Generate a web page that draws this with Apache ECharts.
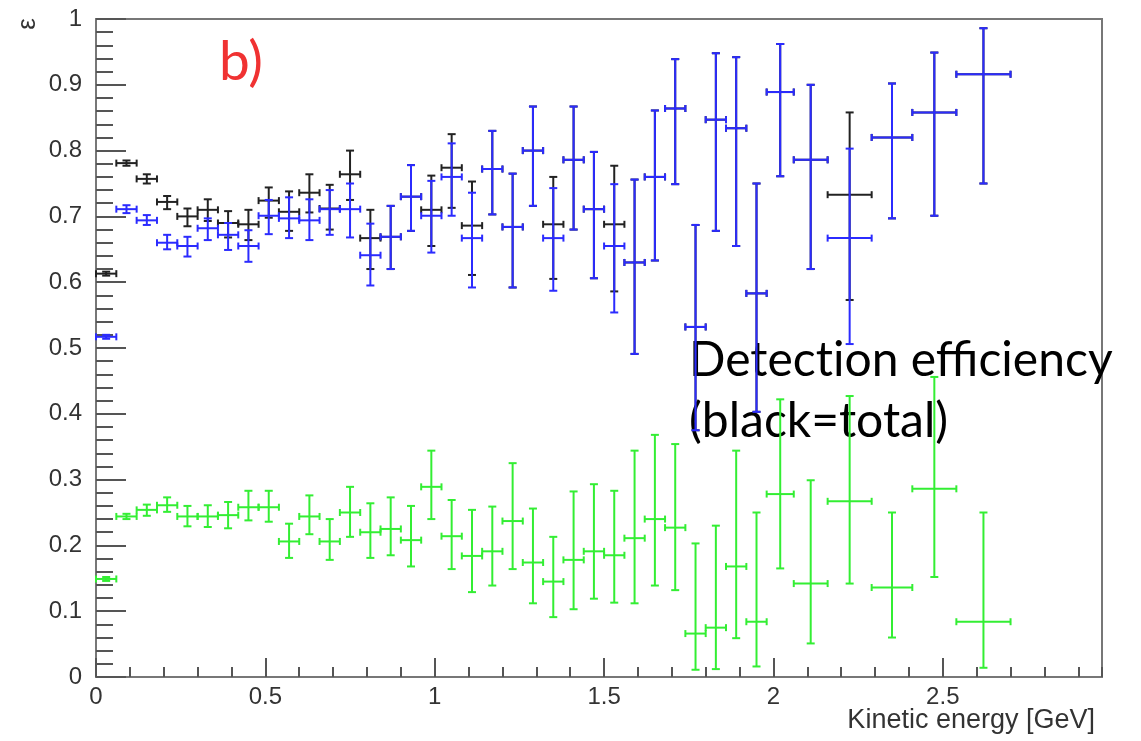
<!DOCTYPE html>
<html><head><meta charset="utf-8">
<script src="https://cdn.jsdelivr.net/npm/echarts@6/dist/echarts.min.js"></script>
<style>html,body{margin:0;padding:0;background:#fff}#c{width:1141px;height:741px}</style>
</head><body><div id="c"></div>
<script>
// Kinetic energy bin edges [GeV]
const binEdges = [0,0.06,0.12,0.18,0.24,0.30,0.36,0.42,0.48,0.54,0.60,0.66,0.72,0.78,0.84,0.90,0.96,1.02,1.08,1.14,1.20,1.26,1.32,1.38,1.44,1.50,1.56,1.62,1.68,1.74,1.80,1.86,1.92,1.98,2.06,2.16,2.29,2.41,2.54,2.70];

// Black = total efficiency
const blackVal = [0.613,0.781,0.757,0.722,0.700,0.710,0.690,0.688,0.724,0.707,0.736,0.712,0.764,0.667,0.669,0.730,0.710,0.774,0.686,0.772,0.684,0.800,0.688,0.786,0.711,0.688,0.630,0.760,0.864,0.532,0.847,0.834,0.583,0.889,0.786,0.733,0.820,0.858,0.916];
const blackLo  = [0.610,0.777,0.750,0.711,0.685,0.693,0.668,0.664,0.698,0.678,0.706,0.680,0.725,0.620,0.620,0.678,0.655,0.713,0.611,0.703,0.592,0.716,0.605,0.680,0.606,0.586,0.491,0.633,0.749,0.375,0.678,0.655,0.403,0.761,0.620,0.573,0.697,0.701,0.750];
const blackHi  = [0.616,0.785,0.764,0.731,0.712,0.726,0.708,0.710,0.744,0.738,0.764,0.748,0.800,0.710,0.716,0.778,0.762,0.825,0.753,0.830,0.765,0.867,0.760,0.867,0.798,0.777,0.756,0.861,0.939,0.687,0.948,0.942,0.750,0.962,0.900,0.858,0.902,0.949,0.986];

// Blue
const blueVal = [0.517,0.711,0.694,0.660,0.655,0.682,0.672,0.655,0.701,0.697,0.694,0.711,0.711,0.641,0.669,0.730,0.701,0.760,0.667,0.772,0.684,0.800,0.667,0.786,0.711,0.655,0.630,0.760,0.864,0.532,0.847,0.834,0.583,0.889,0.786,0.667,0.820,0.858,0.916];
const blueLo  = [0.514,0.705,0.687,0.650,0.639,0.664,0.649,0.631,0.673,0.667,0.664,0.672,0.668,0.595,0.620,0.678,0.645,0.701,0.592,0.703,0.592,0.716,0.587,0.680,0.606,0.554,0.491,0.633,0.749,0.375,0.678,0.655,0.403,0.761,0.620,0.506,0.697,0.701,0.750];
const blueHi  = [0.520,0.717,0.702,0.672,0.669,0.697,0.690,0.679,0.725,0.729,0.726,0.740,0.750,0.689,0.716,0.778,0.754,0.811,0.736,0.830,0.765,0.867,0.743,0.867,0.798,0.749,0.756,0.861,0.939,0.687,0.948,0.942,0.750,0.962,0.900,0.803,0.902,0.949,0.986];

// Green
const greenVal = [0.149,0.244,0.254,0.261,0.244,0.244,0.246,0.258,0.258,0.206,0.244,0.206,0.250,0.220,0.225,0.208,0.289,0.214,0.184,0.191,0.237,0.174,0.145,0.178,0.191,0.185,0.211,0.240,0.227,0.066,0.075,0.168,0.084,0.278,0.142,0.267,0.136,0.286,0.084];
const greenLo  = [0.146,0.240,0.245,0.251,0.229,0.228,0.226,0.238,0.236,0.181,0.217,0.178,0.213,0.181,0.185,0.168,0.240,0.164,0.129,0.139,0.164,0.112,0.091,0.103,0.119,0.113,0.112,0.139,0.132,0.011,0.012,0.059,0.016,0.165,0.051,0.142,0.060,0.152,0.014];
const greenHi  = [0.152,0.248,0.262,0.273,0.260,0.261,0.266,0.283,0.283,0.233,0.276,0.240,0.289,0.264,0.273,0.260,0.344,0.269,0.254,0.259,0.325,0.256,0.213,0.282,0.293,0.283,0.344,0.368,0.354,0.203,0.230,0.344,0.250,0.422,0.299,0.427,0.250,0.456,0.250];

function build(val, lo, hi) {
  return val.map((v, i) => [(binEdges[i] + binEdges[i + 1]) / 2, v, binEdges[i], binEdges[i + 1], lo[i], hi[i]]);
}

function errItem(color) {
  return function (params, api) {
    const x = api.value(0), y = api.value(1), x0 = api.value(2), x1 = api.value(3), y0 = api.value(4), y1 = api.value(5);
    const a = api.coord([x0, y]), b = api.coord([x1, y]), lo = api.coord([x, y0]), hi = api.coord([x, y1]);
    const cx = lo[0], cy = a[1];
    const cv = 4, ch = 3.5;
    const st = { stroke: color, lineWidth: 2 };
    const L = (p, q, r, s) => ({ type: 'line', shape: { x1: p, y1: q, x2: r, y2: s }, style: st });
    return {
      type: 'group',
      children: [
        L(a[0], cy, b[0], cy),
        L(cx, lo[1], cx, hi[1]),
        L(cx - cv, lo[1], cx + cv, lo[1]),
        L(cx - cv, hi[1], cx + cv, hi[1]),
        L(a[0], cy - ch, a[0], cy + ch),
        L(b[0], cy - ch, b[0], cy + ch)
      ]
    };
  };
}

const fmt = v => String(Math.round(v * 10) / 10);
const tickStyle = { color: '#555', width: 2 };

const chart = echarts.init(document.getElementById('c'), null, { renderer: 'canvas' });
chart.setOption({
  animation: false,
  backgroundColor: '#fff',
  grid: { left: 96, right: 39, top: 19, bottom: 64, show: true, borderColor: '#777', borderWidth: 2 },
  xAxis: [
    {
      type: 'value', min: 0, max: 2.97, interval: 0.5,
      axisLine: { lineStyle: { color: '#777', width: 2 } },
      axisTick: { inside: true, length: 19, lineStyle: tickStyle },
      axisLabel: { fontSize: 24, color: '#333', margin: 8, fontFamily: 'Liberation Sans', showMaxLabel: false, formatter: fmt },
      splitLine: { show: false }
    },
    {
      type: 'value', min: 0, max: 2.97, interval: 0.1, position: 'bottom',
      axisLine: { show: false },
      axisTick: { inside: true, length: 10, lineStyle: tickStyle },
      axisLabel: { show: false },
      splitLine: { show: false }
    }
  ],
  yAxis: {
    type: 'value', min: 0, max: 1, interval: 0.1,
    axisLine: { lineStyle: { color: '#777', width: 2 } },
    axisTick: { inside: true, length: 30, lineStyle: tickStyle },
    minorTick: { show: true, splitNumber: 5, length: 17, lineStyle: tickStyle },
    axisLabel: { fontSize: 24, color: '#333', margin: 14, fontFamily: 'Liberation Sans', formatter: fmt },
    splitLine: { show: false }
  },
  series: [
    { type: 'custom', name: 'total', xAxisIndex: 0, renderItem: errItem('#222'), data: build(blackVal, blackLo, blackHi), encode: { x: [0, 2, 3], y: [1, 4, 5] } },
    { type: 'custom', name: 'blue', xAxisIndex: 0, renderItem: errItem('#2b2bff'), data: build(blueVal, blueLo, blueHi), encode: { x: [0, 2, 3], y: [1, 4, 5] } },
    { type: 'custom', name: 'green', xAxisIndex: 0, renderItem: errItem('#33ee33'), data: build(greenVal, greenLo, greenHi), encode: { x: [0, 2, 3], y: [1, 4, 5] } }
  ],
  graphic: [
    { type: 'text', x: 28, y: 24, rotation: Math.PI / 2, style: { text: 'ε', font: '26px "Liberation Sans"', fill: '#333', align: 'center', verticalAlign: 'middle' } },
    { type: 'text', x: 219, y: 62, style: { text: 'b)', font: '55px Lato', fill: '#f03232', align: 'left', verticalAlign: 'middle' } },
    { type: 'text', x: 689, y: 361, style: { text: 'Detect\u200Cion efficiency', font: '48px Lato', fill: '#000', align: 'left', verticalAlign: 'middle' } },
    { type: 'text', x: 689, y: 422, style: { text: '(black=total)', font: '48px Lato', fill: '#000', align: 'left', verticalAlign: 'middle' } },
    { type: 'text', x: 1095, y: 721, style: { text: 'Kinetic energy [GeV]', font: '27px "Liberation Sans"', fill: '#333', align: 'right', verticalAlign: 'middle' } }
  ]
});
</script>
</body></html>
